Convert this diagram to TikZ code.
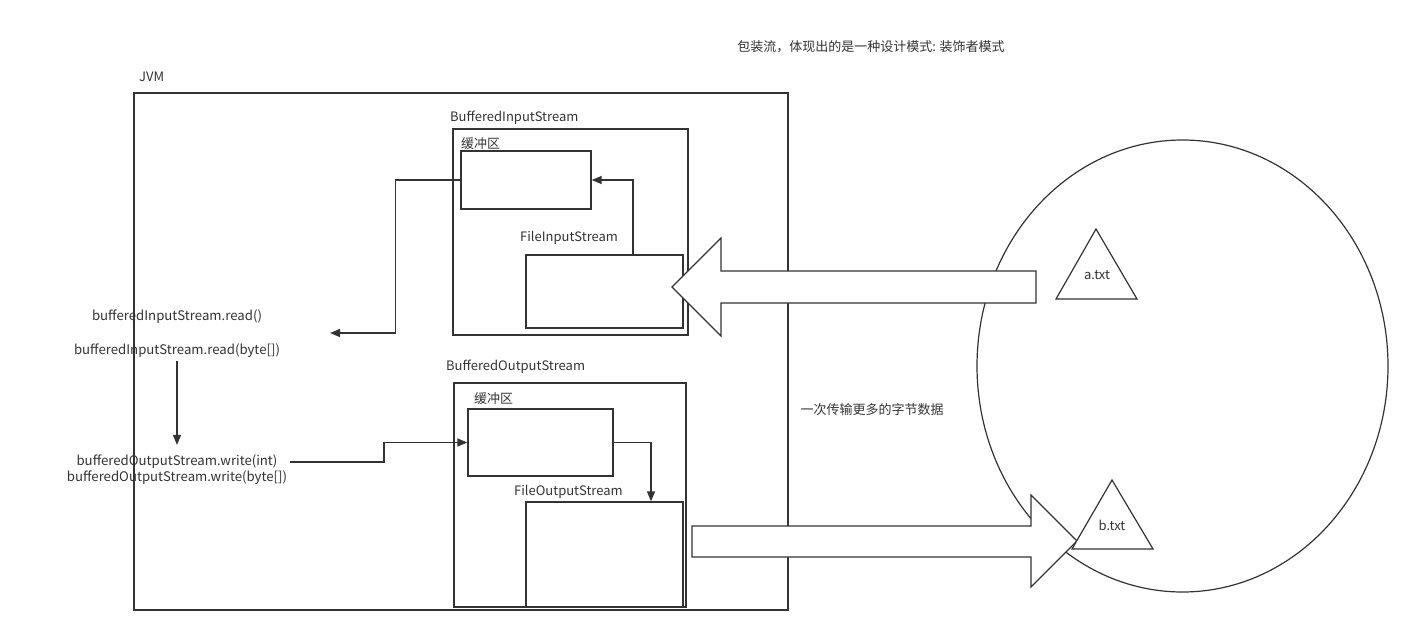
\documentclass[tikz,border=0pt]{standalone}
\usepackage{fontspec}
\setmainfont{Noto Sans CJK SC}
\usetikzlibrary{arrows.meta,shapes.geometric,calc}
\definecolor{ink}{HTML}{333333}
\tikzset{
  box/.style={draw=ink, line width=1.3pt, inner sep=0pt, fill=none},
  lbl/.style={text=ink, font=\fontsize{13}{15}\selectfont, inner sep=0pt},
  call/.style={lbl, font=\fontsize{13.2}{15}\selectfont},
  conn/.style={draw=ink, line width=1.3pt, -{Triangle[length=10pt,width=8pt]}},
  blockarrow/.style={draw=ink, line width=1.2pt, fill=white, line join=miter},
  filetri/.style={draw=ink, line width=1.2pt, fill=white},
}
\begin{document}
\begin{tikzpicture}[x=1pt, y=-1pt]
\useasboundingbox (0,0) rectangle (1413,635);

% title
\node[lbl] (title) at (871,47) {包装流，体现出的是一种设计模式: 装饰者模式};

% JVM frame
\node[lbl, anchor=west] (jvmlbl) at (139,77) {JVM};
\node[box, minimum width=654pt, minimum height=517pt] (jvm) at (461,351.5) {};

% buffered input stream
\node[lbl, anchor=west] (bislbl) at (450,118) {BufferedInputStream};
\node[box, minimum width=235pt, minimum height=206pt] (bis) at (570.5,232) {};
\node[lbl, anchor=west] (buf1lbl) at (461,144) {缓冲区};
\node[box, minimum width=130pt, minimum height=58pt] (buf1) at (526,180) {};
\node[lbl, anchor=west] (fislbl) at (520,238) {FileInputStream};
\node[box, minimum width=157pt, minimum height=73pt] (fis) at (604.5,291.5) {};

% buffered output stream
\node[lbl, anchor=west] (boslbl) at (446,367) {BufferedOutputStream};
\node[box, minimum width=232pt, minimum height=224pt] (bos) at (570,495) {};
\node[lbl, anchor=west] (buf2lbl) at (474,399) {缓冲区};
\node[box, minimum width=145pt, minimum height=67pt] (buf2) at (540.5,442.5) {};
\node[lbl, anchor=west] (foslbl) at (514,492) {FileOutputStream};
\node[box, minimum width=157pt, minimum height=105pt] (fos) at (604.5,554.5) {};

% method calls
\node[call] (read1) at (177,317) {bufferedInputStream.read()};
\node[call] (read2) at (177,351) {bufferedInputStream.read(byte[])};
\node[call] (write1) at (177,462) {bufferedOutputStream.write(int)};
\node[call] (write2) at (177,478) {bufferedOutputStream.write(byte[])};
\coordinate (readin) at (330,333);

% data flow inside the JVM
\draw[conn] ([xshift=28.5pt]fis.north) |- (buf1.east);
\draw[conn] (buf1.west) -- ++(-65,0) |- (readin);
\draw[conn, shorten <=3pt, shorten >=10pt] (read2.south) -- (write1.north);
\draw[conn] ([xshift=12pt]write1.east) -- (384,462) |- (buf2.west);
\draw[conn] (buf2.east) -| ([xshift=46.5pt]fos.north);

% note on the transfer
\node[lbl] (note) at (872,410) {一次传输更多的字节数据};

% disk
\node[draw=ink, line width=1.2pt, ellipse, minimum width=411pt, minimum height=452pt, inner sep=0pt] (disk) at (1182.5,366) {};

% read transfer: a.txt into FileInputStream
\draw[blockarrow] (1036,271) -- (721,271) -- (721,238) -- (672,287)
  -- (721,336) -- (721,303) -- (1036,303) -- cycle;

% write transfer: FileOutputStream into b.txt
\draw[blockarrow] (692,526) -- (1031,526) -- (1031,495) -- (1077,541)
  -- (1031,587) -- (1031,557) -- (692,557) -- cycle;

% files
\draw[filetri] (1096,229) -- (1137,299) -- (1056,299) -- cycle;
\node[lbl] (atxt) at (1097,275) {a.txt};
\draw[filetri] (1112,480) -- (1153,549) -- (1072,549) -- cycle;
\node[lbl] (btxt) at (1112,525) {b.txt};
\end{tikzpicture}
\end{document}
